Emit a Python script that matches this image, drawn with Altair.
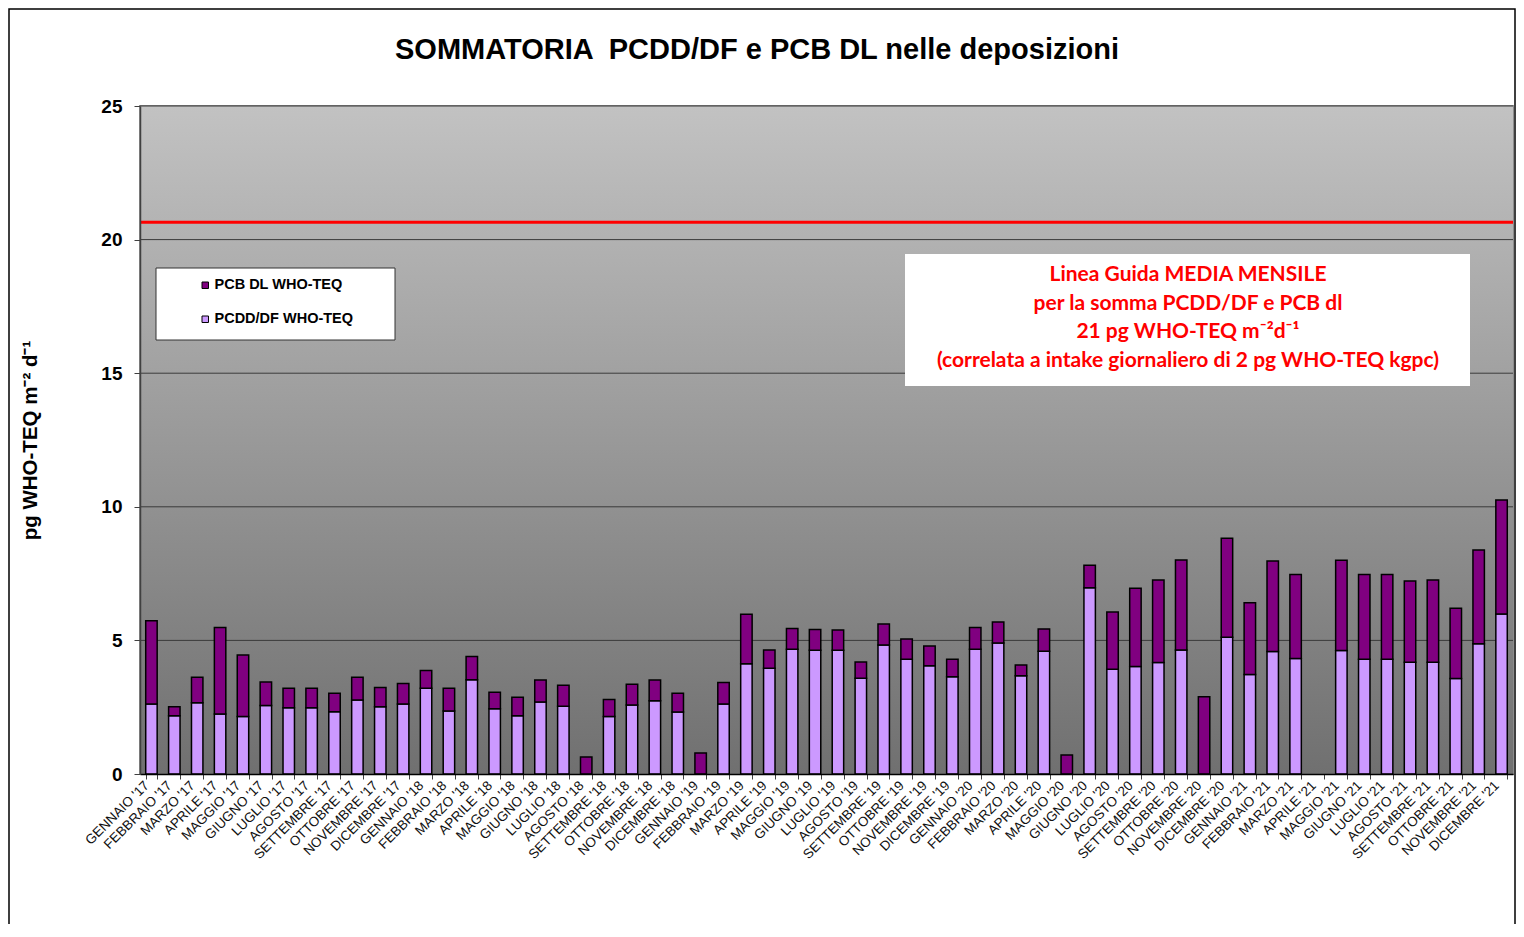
import altair as alt
import pandas as pd

months = ["GENNAIO", "FEBBRAIO", "MARZO", "APRILE", "MAGGIO", "GIUGNO",
          "LUGLIO", "AGOSTO", "SETTEMBRE", "OTTOBRE", "NOVEMBRE", "DICEMBRE"]
years = ["17", "18", "19", "20", "21"]
categories = [f"{m} '{y}" for y in years for m in months]

pcdd = [
    2.62, 2.18, 2.67, 2.25, 2.15, 2.56, 2.48, 2.48, 2.33, 2.77, 2.52, 2.62,
    3.21, 2.36, 3.53, 2.44, 2.18, 2.69, 2.54, 0.00, 2.15, 2.58, 2.74, 2.32,
    0.00, 2.62, 4.13, 3.96, 4.67, 4.63, 4.63, 3.58, 4.83, 4.29, 4.05, 3.64,
    4.67, 4.90, 3.68, 4.59, 0.00, 6.97, 3.92, 4.02, 4.17, 4.64, 0.00, 5.12,
    3.72, 4.58, 4.32, 0.00, 4.62, 4.29, 4.29, 4.18, 4.18, 3.57, 4.87, 5.99,
]
pcb = [
    3.12, 0.34, 0.95, 3.23, 2.30, 0.88, 0.73, 0.73, 0.69, 0.85, 0.72, 0.77,
    0.66, 0.85, 0.87, 0.62, 0.69, 0.83, 0.78, 0.64, 0.64, 0.78, 0.78, 0.70,
    0.79, 0.80, 1.85, 0.68, 0.78, 0.78, 0.76, 0.61, 0.78, 0.76, 0.74, 0.65,
    0.81, 0.79, 0.40, 0.84, 0.71, 0.84, 2.14, 2.93, 3.09, 3.37, 2.89, 3.70,
    2.69, 3.39, 3.15, 0.00, 3.38, 3.18, 3.18, 3.04, 3.08, 2.63, 3.51, 4.26,
]
series = ["PCB DL WHO-TEQ", "PCDD/DF WHO-TEQ"]
series_colors = ["#800080", "#cc99ff"]
guide_value = [20.65]
grid_values = [5, 10, 15, 20, 25]
y_ticks = [0, 5, 10, 15, 20, 25]

title_text = "SOMMATORIA \u00a0PCDD/DF e PCB DL nelle deposizioni"
y_title = "pg WHO-TEQ m\u207b\u00b2 d\u207b\u00b9"
note_lines = [
    "Linea Guida MEDIA MENSILE",
    "per la somma PCDD/DF e PCB dl",
    "21 pg WHO-TEQ m\u207b\u00b2d\u207b\u00b9",
    "(correlata a intake giornaliero di 2 pg WHO-TEQ kgpc)",
]

rows = []
for c, a, b in zip(categories, pcdd, pcb):
    rows.append({"mese": c, "serie": series[1], "valore": a, "ord": 0})
    rows.append({"mese": c, "serie": series[0], "valore": b, "ord": 1})
df = pd.DataFrame(rows)

W, H = 1373, 668
FONT = "Liberation Sans"
xscale = alt.Scale(domain=categories, paddingInner=0.5, paddingOuter=0.25)
yscale = alt.Scale(domain=[0, 25], nice=False, zero=True)
yaxis = alt.Axis(
    values=y_ticks, grid=False, tickSize=6, tickColor="#404040",
    domainColor="#404040", domainWidth=1.5, zindex=1,
    labelFont=FONT, labelFontSize=19, labelFontWeight="bold",
    labelColor="black", labelPadding=12,
    title=y_title, titleFont=FONT, titleFontSize=20.5,
    titleFontWeight="bold", titleColor="black", titlePadding=60,
)
one = pd.DataFrame({"k": [0]})

frame = alt.Chart(one).mark_rect(fillOpacity=0, stroke="black", strokeWidth=1.5).encode(
    x=alt.value(-131), x2=alt.value(W + 2), y=alt.value(-97), y2=alt.value(H + 200)
)

title = alt.Chart(one).mark_text(
    text=title_text, font=FONT, fontSize=29, fontWeight="bold", color="black",
    align="center", baseline="middle",
).encode(x=alt.value(617), y=alt.value(-56))

bg = alt.Chart(one).mark_rect(
    fill=alt.LinearGradient(
        gradient="linear",
        stops=[alt.GradientStop(color="#c2c2c2", offset=0),
               alt.GradientStop(color="#707070", offset=1)],
        x1=0, x2=0, y1=0, y2=1,
    )
).encode(x=alt.value(0), x2=alt.value(W), y=alt.value(0), y2=alt.value(H))

grid = alt.Chart(pd.DataFrame({"g": grid_values})).mark_rule(
    color="#3a3a3a", strokeWidth=1
).encode(y=alt.Y("g:Q", scale=yscale, axis=yaxis, title=y_title))

guide = alt.Chart(pd.DataFrame({"v": guide_value})).mark_rule(
    color="#ff0000", strokeWidth=3
).encode(y=alt.Y("v:Q", scale=yscale, axis=yaxis, title=y_title))

bars = alt.Chart(df).transform_filter("datum.valore > 0").mark_bar(
    stroke="black", strokeWidth=1.5
).encode(
    x=alt.X("mese:N", scale=xscale, axis=alt.Axis(
        title=None, labelAngle=-45, labelAlign="right", labelBaseline="middle",
        labelFont=FONT, labelFontSize=13.5, labelColor="#111111",
        labelPadding=4, labelOffset=-5, labelOverlap=False, tickBand="extent",
        tickSize=5, tickColor="#404040", domainColor="black", domainWidth=1.5,
        zindex=1,
    )),
    y=alt.Y("valore:Q", stack="zero", scale=yscale, axis=yaxis, title=y_title),
    color=alt.Color("serie:N", scale=alt.Scale(domain=series, range=series_colors),
                    legend=alt.Legend(
                        title=None, orient="none", legendX=58, legendY=172,
                        symbolType="square", symbolSize=42, symbolStrokeColor="black",
                        symbolStrokeWidth=1, labelFont=FONT, labelFontSize=14.5,
                        labelFontWeight="bold", labelColor="black", rowPadding=19,
                        labelOffset=2, padding=0,
                    )),
    order=alt.Order("ord:Q", sort="ascending"),
)

note_box = alt.Chart(one).mark_rect(fill="white").encode(
    x=alt.value(765), x2=alt.value(1330), y=alt.value(148), y2=alt.value(280)
)
note_text = alt.Chart(one).mark_text(
    text=note_lines, color="#ff0000", font="Lato", fontSize=21, fontWeight="bold",
    lineHeight=28.5, align="center", baseline="top",
).encode(x=alt.value(1048), y=alt.value(158))

legend_box = alt.Chart(one).mark_rect(fill="white", stroke="#333333", strokeWidth=1).encode(
    x=alt.value(16), x2=alt.value(255), y=alt.value(162), y2=alt.value(234)
)

chart = alt.layer(frame, title, bg, grid, guide, bars, note_box, note_text, legend_box).properties(
    width=W, height=H,
    padding={"left": 132, "top": 98, "right": 3, "bottom": 150},
    autosize=alt.AutoSizeParams(type="none"),
).configure_view(stroke="#8c8c8c", strokeWidth=2)

chart.save("out.html", embed_options={"renderer": "svg", "actions": False})
